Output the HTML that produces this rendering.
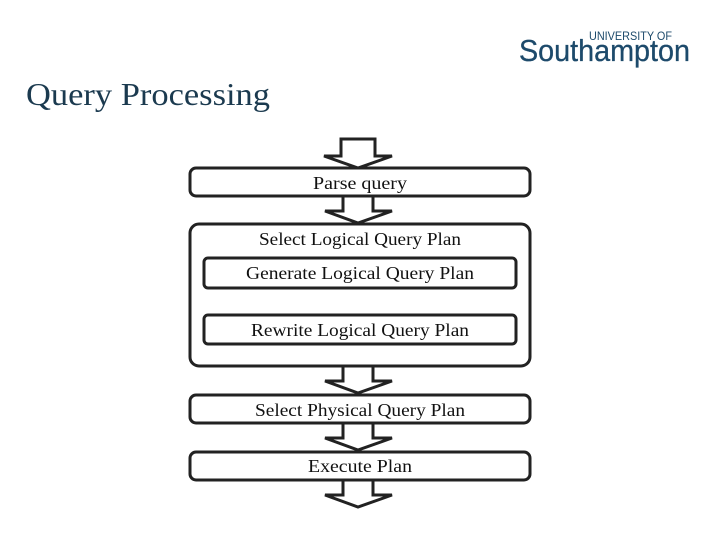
<!DOCTYPE html>
<html><head><style>
body{margin:0;width:720px;height:540px;background:#fff;overflow:hidden}
svg{display:block}
</style></head><body>
<svg width="720" height="540" xmlns="http://www.w3.org/2000/svg">
<text x="26" y="105" font-family="Liberation Serif, serif" font-size="32" fill="#1b3a4f" textLength="244" lengthAdjust="spacingAndGlyphs">Query Processing</text>
<text x="589" y="40" font-family="Liberation Sans, sans-serif" font-size="12" fill="#1d4a6b" textLength="83" lengthAdjust="spacingAndGlyphs">UNIVERSITY OF</text>
<text x="519" y="61" font-family="Liberation Sans, sans-serif" font-size="31" fill="#1d4a6b" stroke="#1d4a6b" stroke-width="0.3" textLength="171" lengthAdjust="spacingAndGlyphs">Southampton</text>
<g fill="#fff" stroke="#222" stroke-width="3" stroke-linejoin="miter">
<polygon points="341,139 375,139 375,156 392,156 358,168 324,156 341,156"/>
<polygon points="343,196 373,196 373,211 392,211 358,223 325,211 343,211"/>
<polygon points="343,366 373,366 373,381 392,381 358,393 325,381 343,381"/>
<polygon points="343,423 373,423 373,438 392,438 358,450 325,438 343,438"/>
<polygon points="343,480 373,480 373,495 392,495 358,507 325,495 343,495"/>
<rect x="190" y="168" width="340" height="28" rx="6"/>
<rect x="190" y="224" width="340" height="142" rx="9"/>
<rect x="204" y="258" width="312" height="30" rx="4"/>
<rect x="204" y="315" width="312" height="29" rx="4"/>
<rect x="190" y="395" width="340" height="28" rx="6"/>
<rect x="190" y="452" width="340" height="28" rx="6"/>
</g>
<g font-family="Liberation Serif, serif" font-size="18" fill="#111" text-anchor="middle">
<text x="360" y="189" textLength="94" lengthAdjust="spacingAndGlyphs">Parse query</text>
<text x="360" y="245" textLength="202" lengthAdjust="spacingAndGlyphs">Select Logical Query Plan</text>
<text x="360" y="279" textLength="228" lengthAdjust="spacingAndGlyphs">Generate Logical Query Plan</text>
<text x="360" y="336" textLength="218" lengthAdjust="spacingAndGlyphs">Rewrite Logical Query Plan</text>
<text x="360" y="416" textLength="210" lengthAdjust="spacingAndGlyphs">Select Physical Query Plan</text>
<text x="360" y="472" textLength="104" lengthAdjust="spacingAndGlyphs">Execute Plan</text>
</g>
</svg>
</body></html>
